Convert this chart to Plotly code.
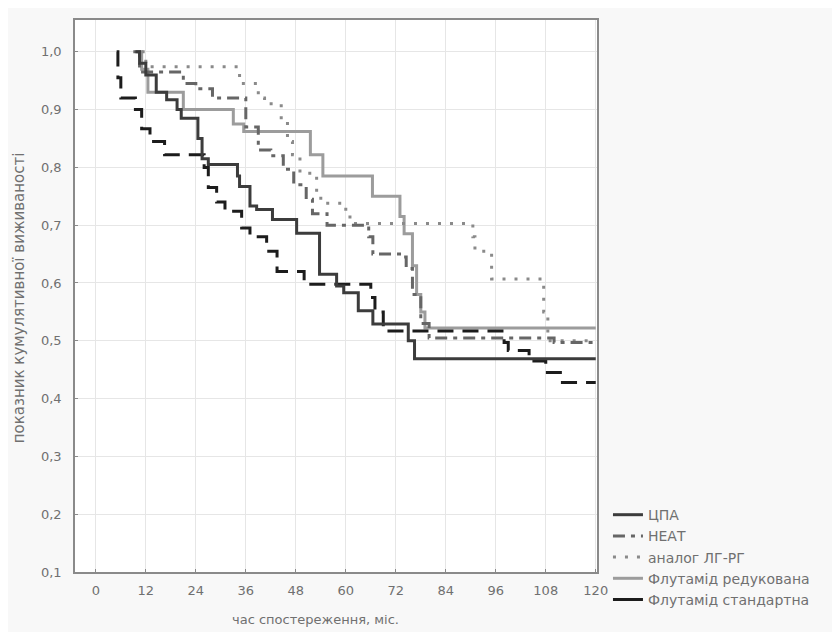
import plotly.graph_objects as go

names = ["ЦПА", "НЕАТ", "аналог ЛГ-РГ", "Флутамід редукована", "Флутамід стандартна"]

cpa_t = [9.5, 10.5, 12, 14.5, 17, 19.5, 20.5, 24.5, 25.5, 27, 34, 34.5, 37, 38.6, 42.4, 48.2, 53.7, 57.8, 59.5, 63, 66.5, 75, 76.5, 120]
cpa_s = [1.0, 0.98, 0.96, 0.93, 0.917, 0.90, 0.885, 0.85, 0.815, 0.805, 0.785, 0.767, 0.733, 0.727, 0.71, 0.686, 0.615, 0.595, 0.583, 0.552, 0.529, 0.50, 0.469, 0.469]

heat_t = [9, 10.5, 21, 24, 28, 36, 39, 42, 45, 47.5, 50.5, 52, 55.5, 65.5, 66.5, 73.5, 74.5, 76, 78, 80, 110, 120]
heat_s = [1.0, 0.965, 0.945, 0.936, 0.92, 0.87, 0.83, 0.82, 0.797, 0.77, 0.745, 0.72, 0.70, 0.68, 0.65, 0.645, 0.625, 0.58, 0.53, 0.505, 0.497, 0.497]

lhrh_t = [11, 12, 34.5, 39, 40.5, 44.5, 46, 47.2, 49, 53, 54, 60, 61, 90.5, 91, 95, 107.5, 108.5, 120]
lhrh_s = [1.0, 0.974, 0.945, 0.92, 0.91, 0.883, 0.845, 0.822, 0.79, 0.755, 0.738, 0.724, 0.703, 0.68, 0.655, 0.607, 0.55, 0.50, 0.50]

flr_t = [10, 11, 12.5, 21, 33, 35.5, 51.5, 54.5, 66.4, 73, 74, 76, 77, 78, 79, 120]
flr_s = [1.0, 0.97, 0.93, 0.90, 0.875, 0.862, 0.822, 0.785, 0.75, 0.715, 0.685, 0.63, 0.58, 0.55, 0.522, 0.522]

fls_t = [5, 5.3, 6, 9.5, 11, 13, 16.5, 26, 27, 29, 31, 35, 37, 41, 43.5, 50, 66, 67, 69, 98, 99, 104, 108, 112, 120]
fls_s = [1.0, 0.955, 0.92, 0.90, 0.867, 0.845, 0.822, 0.80, 0.765, 0.74, 0.724, 0.695, 0.68, 0.655, 0.62, 0.598, 0.575, 0.55, 0.517, 0.497, 0.483, 0.465, 0.445, 0.428, 0.428]

x_ticks = [0, 12, 24, 36, 48, 60, 72, 84, 96, 108, 120]
y_ticks = [0.1, 0.2, 0.3, 0.4, 0.5, 0.6, 0.7, 0.8, 0.9, 1.0]
y_ticktext = ["0,1", "0,2", "0,3", "0,4", "0,5", "0,6", "0,7", "0,8", "0,9", "1,0"]

FONT = "DejaVu Sans, Liberation Sans, Arial"
TXT = "#707070"

series = [
    (flr_t, flr_s, names[3], "#9c9c9c", "solid", "solid"),
    (lhrh_t, lhrh_s, names[2], "#8a8a8a", "3px,9px", "3px,9px"),
    (heat_t, heat_s, names[1], "#666666", "12px,6px,4px,6px", "12px,6px,4px,6px"),
    (fls_t, fls_s, names[4], "#1c1c1c", "16px,9px", "solid"),
    (cpa_t, cpa_s, names[0], "#3c3c3c", "solid", "solid"),
]

fig = go.Figure()
for t, s, name, color, dash, _ in series:
    fig.add_trace(go.Scatter(x=t, y=s, mode="lines", line=dict(color=color, width=3, dash=dash, shape="hv"),
                             name=name, showlegend=False, legendgroup=name))

style = {name: (color, ldash) for _, _, name, color, _, ldash in series}
for name in names:
    color, ldash = style[name]
    fig.add_trace(go.Scatter(x=[None], y=[None], mode="lines", line=dict(color=color, width=3, dash=ldash),
                             name=name, legendgroup=name))

axis_common = dict(showline=True, linecolor="#8a8a8a", linewidth=1.5, mirror=True,
                   showgrid=True, gridcolor="#e6e6e6", gridwidth=1, zeroline=False,
                   ticks="inside", ticklen=3, tickcolor="#8a8a8a",
                   tickfont=dict(family=FONT, size=13, color=TXT))

fig.update_layout(
    width=840, height=632,
    margin=dict(l=67, r=251, t=10, b=68),
    paper_bgcolor="#f8f8f8", plot_bgcolor="#ffffff",
    font=dict(family=FONT, color=TXT),
    xaxis=dict(range=[-5, 120.3], tickvals=x_ticks, ticktext=[str(v) for v in x_ticks],
               ticklabelstandoff=6, **axis_common),
    yaxis=dict(range=[0.1, 1.055], tickvals=y_ticks, ticktext=y_ticktext,
               ticklabelstandoff=9, **axis_common),
    legend=dict(x=1.021, xanchor="left", y=0.027, yanchor="middle", bgcolor="rgba(0,0,0,0)",
                font=dict(family=FONT, size=14, color=TXT), tracegroupgap=0, itemwidth=30),
    annotations=[
        dict(text="час спостереження, міс.", xref="paper", yref="paper", x=0.46, y=-0.0866,
             xanchor="center", yanchor="middle", showarrow=False,
             font=dict(family=FONT, size=13, color=TXT)),
        dict(text="показник кумулятивної виживаності", xref="paper", yref="paper", x=-0.108, y=0.497,
             xanchor="center", yanchor="middle", textangle=-90, showarrow=False,
             font=dict(family=FONT, size=15, color=TXT)),
    ],
)

fig.write_html("out.html")
